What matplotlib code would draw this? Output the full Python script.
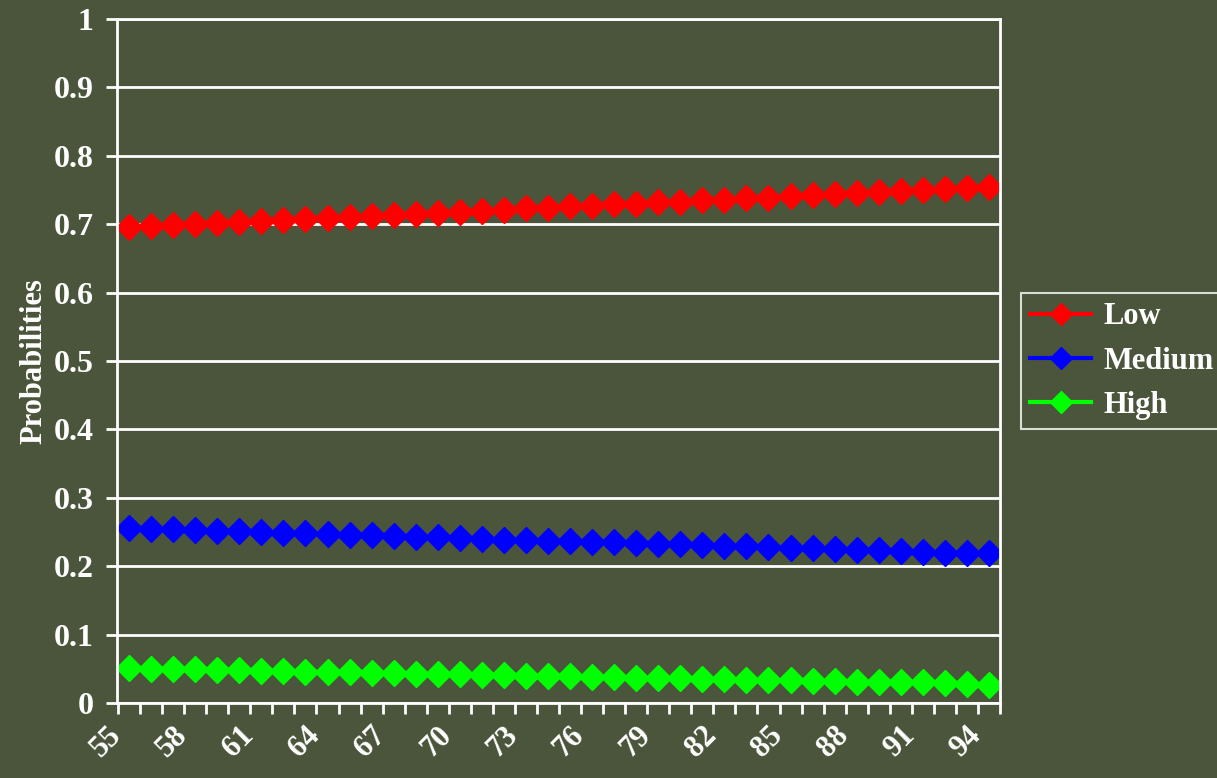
import numpy as np
import matplotlib.pyplot as plt

# --- dados ---
ages = list(range(55, 95))
low = [0.696, 0.697, 0.699, 0.700, 0.702, 0.703, 0.705, 0.706, 0.708, 0.709,
       0.711, 0.712, 0.714, 0.715, 0.717, 0.718, 0.720, 0.721, 0.723, 0.724,
       0.726, 0.727, 0.729, 0.730, 0.732, 0.733, 0.735, 0.736, 0.738, 0.739,
       0.741, 0.742, 0.744, 0.745, 0.747, 0.748, 0.750, 0.751, 0.753, 0.754]
medium = [0.256, 0.255, 0.254, 0.253, 0.252, 0.251, 0.250, 0.249, 0.248, 0.247,
          0.246, 0.245, 0.244, 0.243, 0.242, 0.241, 0.240, 0.239, 0.238, 0.237,
          0.237, 0.236, 0.235, 0.234, 0.233, 0.232, 0.231, 0.230, 0.229, 0.228,
          0.227, 0.226, 0.225, 0.224, 0.223, 0.222, 0.221, 0.220, 0.220, 0.219]
high = [0.051, 0.050, 0.050, 0.049, 0.048, 0.048, 0.047, 0.047, 0.046, 0.045,
        0.045, 0.044, 0.044, 0.043, 0.042, 0.042, 0.041, 0.041, 0.040, 0.039,
        0.039, 0.038, 0.038, 0.037, 0.036, 0.036, 0.035, 0.035, 0.034, 0.034,
        0.033, 0.032, 0.032, 0.031, 0.031, 0.030, 0.030, 0.029, 0.028, 0.027]

bg = "#4B553C"
plt.rcParams["font.family"] = ["Liberation Serif", "DejaVu Serif"]
plt.rcParams["font.weight"] = "bold"

fig = plt.figure(figsize=(12.17, 7.78), dpi=100, facecolor=bg)
ax = fig.add_axes([0.0961, 0.0964, 0.7256, 0.8792], facecolor=bg)

# eixo de categorias: pontos no centro de cada faixa
x = np.arange(len(ages)) + 0.5
for vals, cor, nome in [(low, "#FF0000", "Low"),
                        (medium, "#0000FF", "Medium"),
                        (high, "#00FF00", "High")]:
    ax.plot(x, vals, color=cor, lw=2.5, marker="D", ms=13.5, mec=cor, label=nome)

ax.set_xlim(0, len(ages))
ax.set_ylim(0, 1)
ax.set_yticks(np.arange(0, 1.01, 0.1))
ax.set_yticklabels(["0", "0.1", "0.2", "0.3", "0.4", "0.5", "0.6", "0.7", "0.8", "0.9", "1"])
ax.yaxis.grid(True, color="white", lw=2)

# marcas entre categorias; rótulos a cada 3 (ticks menores invisíveis,
# um pouco à esquerda para o texto inclinado terminar sob a categoria)
ax.set_xticks(np.arange(len(ages) + 1))
ax.set_xticklabels([])
ax.set_xticks(x[::3] - 0.55, minor=True)
ax.set_xticklabels([str(a) for a in ages[::3]], minor=True, rotation=45,
                   ha="right", va="center", rotation_mode="anchor")
ax.tick_params(axis="x", which="minor", length=0, pad=20, labelsize=22, colors="white")
ax.tick_params(axis="x", which="major", length=8, width=2, color="white")
ax.tick_params(axis="y", length=8, width=2, color="white", labelsize=23,
               labelcolor="white", pad=9)

for s in ax.spines.values():
    s.set_color("white")
    s.set_linewidth(2)

ax.set_ylabel("Probabilities", color="white", fontsize=22, fontweight="bold")
ax.yaxis.set_label_coords(-0.078, 0.5)

leg = fig.legend(loc="upper left", bbox_to_anchor=(0.839, 0.623), fontsize=22,
                 frameon=True, fancybox=False, handlelength=2.0, handletextpad=0.4,
                 borderaxespad=0, borderpad=0.3, labelcolor="white",
                 labelspacing=0.5)
leg.get_frame().set_facecolor(bg)
leg.get_frame().set_edgecolor("white")
leg.get_frame().set_linewidth(1.5)
for ln in leg.get_lines():
    ln.set_markersize(11)
    ln.set_linewidth(3)

fig.savefig("out.png", dpi=100, facecolor=bg)
